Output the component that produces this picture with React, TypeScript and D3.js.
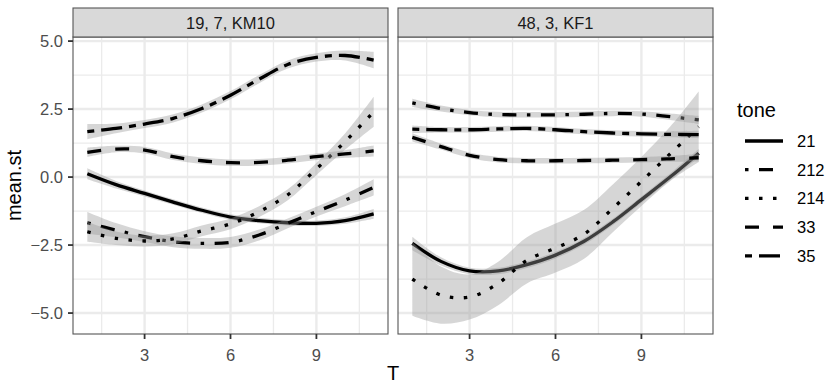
import React from "react";
import * as d3 from "d3";

// ---------- data ----------
const T = [1, 2, 3, 4, 5, 6, 7, 8, 9, 10, 11];
const TONES = ["21", "212", "214", "33", "35"];
const PANELS = ["19, 7, KM10", "48, 3, KF1"];
const Y_TICKS = [-5, -2.5, 0, 2.5, 5];
const Y_LABELS = ["\u22125.0", "\u22122.5", "0.0", "2.5", "5.0"];
const Y_MINOR = [-3.75, -1.25, 1.25, 3.75];
const X_TICKS = [3, 6, 9];
const X_MINOR = [1.5, 4.5, 7.5, 10.5];

// panel 1 : 19, 7, KM10
const km10_21 = [0.12, -0.28, -0.6, -0.92, -1.22, -1.47, -1.6, -1.68, -1.7, -1.6, -1.35];
const km10_21_se = [0.2, 0.14, 0.11, 0.1, 0.1, 0.1, 0.1, 0.1, 0.1, 0.12, 0.18];
const km10_212 = [-1.68, -1.95, -2.19, -2.38, -2.44, -2.4, -2.13, -1.7, -1.27, -0.85, -0.38];
const km10_212_se = [0.4, 0.26, 0.2, 0.2, 0.2, 0.2, 0.2, 0.18, 0.18, 0.22, 0.3];
const km10_214 = [-2.01, -2.25, -2.35, -2.27, -1.98, -1.72, -1.27, -0.65, 0.3, 1.3, 2.4];
const km10_214_se = [0.37, 0.25, 0.2, 0.2, 0.2, 0.2, 0.2, 0.2, 0.22, 0.3, 0.55];
const km10_33 = [0.91, 1.03, 0.99, 0.75, 0.6, 0.53, 0.54, 0.62, 0.75, 0.85, 0.96];
const km10_33_se = [0.17, 0.12, 0.12, 0.12, 0.12, 0.12, 0.12, 0.12, 0.12, 0.14, 0.2];
const km10_35 = [1.67, 1.79, 1.95, 2.16, 2.52, 3.01, 3.6, 4.14, 4.4, 4.47, 4.3];
const km10_35_se = [0.28, 0.18, 0.15, 0.15, 0.15, 0.15, 0.15, 0.15, 0.15, 0.18, 0.3];

// panel 2 : 48, 3, KF1
const kf1_21 = [-2.44, -3.1, -3.45, -3.45, -3.22, -2.87, -2.36, -1.65, -0.83, 0.0, 0.88];
const kf1_21_se = [0.25, 0.15, 0.12, 0.12, 0.12, 0.12, 0.12, 0.12, 0.12, 0.13, 0.15];
const kf1_212 = [2.73, 2.52, 2.37, 2.3, 2.29, 2.29, 2.31, 2.34, 2.32, 2.22, 2.1];
const kf1_212_se = [0.15, 0.11, 0.1, 0.1, 0.1, 0.1, 0.1, 0.1, 0.1, 0.12, 0.15];
const kf1_214 = [-3.75, -4.34, -4.41, -3.91, -3.06, -2.61, -2.1, -1.15, -0.16, 0.85, 1.85];
const kf1_214_se = [1.35, 1.05, 0.83, 0.8, 0.85, 0.9, 0.9, 0.88, 0.9, 1.0, 1.3];
const kf1_33 = [1.46, 1.12, 0.8, 0.64, 0.6, 0.6, 0.61, 0.62, 0.64, 0.67, 0.71];
const kf1_33_se = [0.15, 0.11, 0.1, 0.1, 0.1, 0.1, 0.1, 0.1, 0.1, 0.11, 0.14];
const kf1_35 = [1.76, 1.74, 1.74, 1.77, 1.79, 1.74, 1.67, 1.62, 1.59, 1.57, 1.56];
const kf1_35_se = [0.14, 0.1, 0.1, 0.1, 0.1, 0.1, 0.1, 0.1, 0.1, 0.11, 0.14];

const FITS = [
  [km10_21, km10_212, km10_214, km10_33, km10_35],
  [kf1_21, kf1_212, kf1_214, kf1_33, kf1_35],
];
const SES = [
  [km10_21_se, km10_212_se, km10_214_se, km10_33_se, km10_35_se],
  [kf1_21_se, kf1_212_se, kf1_214_se, kf1_33_se, kf1_35_se],
];

// ---------- styling ----------
const W = 832;
const H = 383;
const PANEL_W = 315;
const PANEL_LEFTS = [73, 398];
const PANEL_TOP = 37;
const PANEL_BOTTOM = 334;
const STRIP_TOP = 8;
const U = 3.5; // dash unit
const LW = 3.3;
const DASH: Record<string, number[] | null> = {
  "21": null,
  "212": [1, 3, 4, 3],
  "214": [1, 3],
  "33": [4, 4],
  "35": [2, 2, 6, 2],
};
const FONT = "'Liberation Sans', Arial, Helvetica, sans-serif";
const FS = 16.5;
const FS_TITLE = 20;

function dashStr(t: string) {
  const d = DASH[t];
  return d ? d.map((v) => v * U).join(" ") : undefined;
}

export default function App() {
  const y = d3.scaleLinear().domain([-5.77, 5.15]).range([PANEL_BOTTOM, PANEL_TOP]);
  const curve = d3.curveCatmullRom.alpha(0.5);

  const panels = PANELS.map((label, pi) => {
    const left = PANEL_LEFTS[pi];
    const x = d3.scaleLinear().domain([0.5, 11.5]).range([left, left + PANEL_W]);
    const line = d3
      .line<number>()
      .x((_, i) => x(T[i]))
      .y((d) => y(d))
      .curve(curve);
    const groups = TONES.map((tone, ti) => {
      const fit = FITS[pi][ti];
      const se = SES[pi][ti];
      const area = d3
        .area<number>()
        .x((_, i) => x(T[i]))
        .y0((d, i) => y(d - se[i]))
        .y1((d, i) => y(d + se[i]))
        .curve(curve);
      return (
        <g key={tone}>
          <path d={area(fit) || ""} fill="#999999" fillOpacity={0.4} stroke="none" />
          <path
            d={line(fit) || ""}
            fill="none"
            stroke="#000"
            strokeWidth={LW}
            strokeDasharray={dashStr(tone)}
            strokeLinecap="butt"
          />
        </g>
      );
    });
    return (
      <g key={label}>
        <clipPath id={`clip${pi}`}>
          <rect x={left} y={PANEL_TOP} width={PANEL_W} height={PANEL_BOTTOM - PANEL_TOP} />
        </clipPath>
        <rect x={left} y={PANEL_TOP} width={PANEL_W} height={PANEL_BOTTOM - PANEL_TOP} fill="#fff" />
        <g clipPath={`url(#clip${pi})`}>
          {Y_MINOR.map((v) => (
            <line key={"ym" + v} x1={left} x2={left + PANEL_W} y1={y(v)} y2={y(v)} stroke="#ebebeb" strokeWidth={1.3} />
          ))}
          {X_MINOR.map((v) => (
            <line key={"xm" + v} x1={x(v)} x2={x(v)} y1={PANEL_TOP} y2={PANEL_BOTTOM} stroke="#ebebeb" strokeWidth={1.3} />
          ))}
          {Y_TICKS.map((v) => (
            <line key={"yM" + v} x1={left} x2={left + PANEL_W} y1={y(v)} y2={y(v)} stroke="#ebebeb" strokeWidth={2.4} />
          ))}
          {X_TICKS.map((v) => (
            <line key={"xM" + v} x1={x(v)} x2={x(v)} y1={PANEL_TOP} y2={PANEL_BOTTOM} stroke="#ebebeb" strokeWidth={2.4} />
          ))}
          {groups}
        </g>
        <rect
          x={left}
          y={PANEL_TOP}
          width={PANEL_W}
          height={PANEL_BOTTOM - PANEL_TOP}
          fill="none"
          stroke="#555"
          strokeWidth={1.1}
        />
        {/* strip */}
        <rect
          x={left}
          y={STRIP_TOP}
          width={PANEL_W}
          height={PANEL_TOP - STRIP_TOP}
          fill="#d9d9d9"
          stroke="#555"
          strokeWidth={1.1}
        />
        <text
          x={left + PANEL_W / 2}
          y={(STRIP_TOP + PANEL_TOP) / 2}
          textAnchor="middle"
          dominantBaseline="central"
          fontSize={FS}
          fill="#1a1a1a"
          fontFamily={FONT}
        >
          {label}
        </text>
        {/* x axis */}
        {X_TICKS.map((v) => (
          <g key={"xt" + v}>
            <line x1={x(v)} x2={x(v)} y1={PANEL_BOTTOM} y2={PANEL_BOTTOM + 5} stroke="#333" strokeWidth={1.8} />
            <text
              x={x(v)}
              y={PANEL_BOTTOM + 21}
              textAnchor="middle"
              dominantBaseline="central"
              fontSize={FS}
              fill="#4d4d4d"
              fontFamily={FONT}
            >
              {v}
            </text>
          </g>
        ))}
      </g>
    );
  });

  const legendKeys = [141, 169.7, 198.4, 227.1, 255.8];

  return (
    <svg
      width={W}
      height={H}
      style={{ position: "absolute", left: 0, top: 0, background: "#fff" }}
      fontFamily={FONT}
    >
      <rect x={0} y={0} width={W} height={H} fill="#fff" />
      {panels}
      {/* y axis */}
      {Y_TICKS.map((v, i) => (
        <g key={"yt" + v}>
          <line x1={PANEL_LEFTS[0] - 5} x2={PANEL_LEFTS[0]} y1={y(v)} y2={y(v)} stroke="#333" strokeWidth={1.8} />
          <text
            x={PANEL_LEFTS[0] - 10}
            y={y(v)}
            textAnchor="end"
            dominantBaseline="central"
            fontSize={FS}
            fill="#4d4d4d"
          >
            {Y_LABELS[i]}
          </text>
        </g>
      ))}
      <text
        transform={`translate(14, ${(PANEL_TOP + PANEL_BOTTOM) / 2}) rotate(-90)`}
        textAnchor="middle"
        dominantBaseline="central"
        fontSize={FS_TITLE}
        fill="#000"
      >
        mean.st
      </text>
      <text x={(PANEL_LEFTS[0] + PANEL_LEFTS[1] + PANEL_W) / 2} y={380} textAnchor="middle" fontSize={FS_TITLE} fill="#000">
        T
      </text>
      {/* legend */}
      <text x={737} y={117} fontSize={FS_TITLE} fill="#000">
        tone
      </text>
      {TONES.map((t, i) => (
        <g key={"lg" + t}>
          <line
            x1={745}
            x2={783}
            y1={legendKeys[i]}
            y2={legendKeys[i]}
            stroke="#000"
            strokeWidth={LW}
            strokeDasharray={dashStr(t)}
          />
          <text x={797} y={legendKeys[i]} dominantBaseline="central" fontSize={FS} fill="#000">
            {t}
          </text>
        </g>
      ))}
    </svg>
  );
}
